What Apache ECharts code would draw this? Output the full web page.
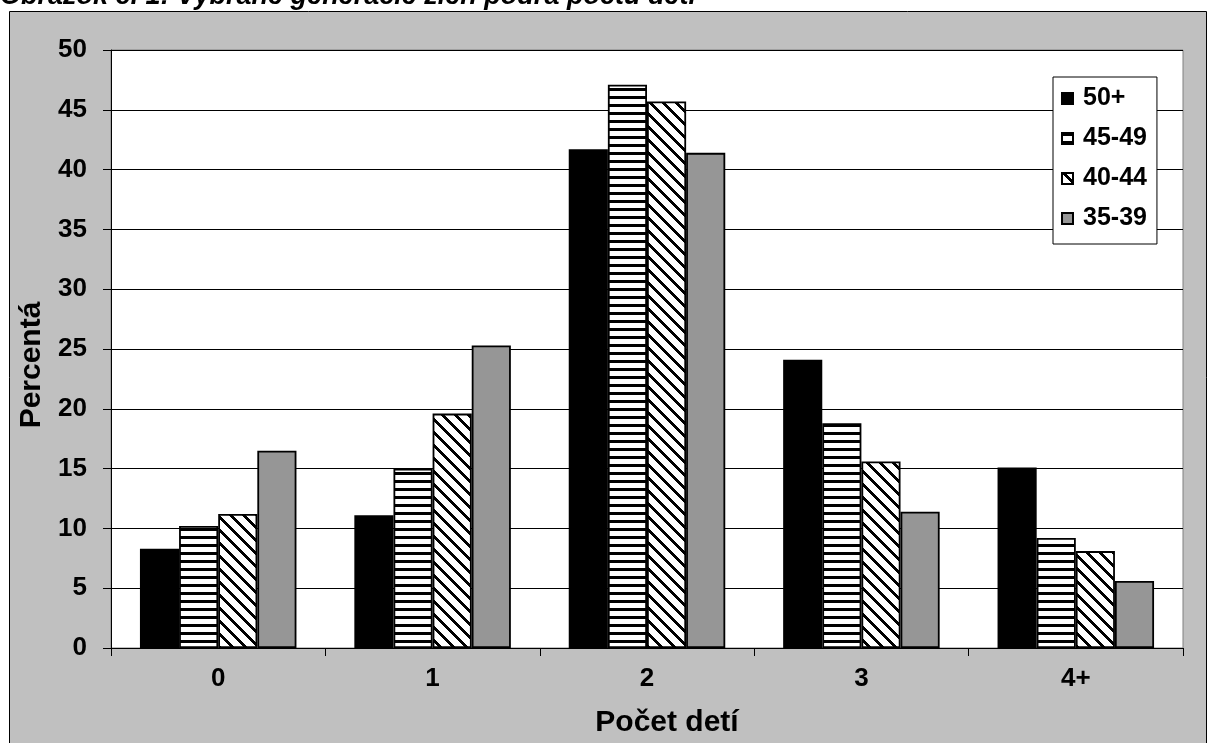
<!DOCTYPE html>
<html><head><meta charset="utf-8">
<script src="https://cdn.jsdelivr.net/npm/echarts@6/dist/echarts.min.js"></script>
<style>html,body{margin:0;padding:0;background:#fff}#c{width:1208px;height:743px}</style>
</head><body><div id="c"></div>
<script>
const categories = ['0', '1', '2', '3', '4+'];
const seriesNames = ['50+', '45-49', '40-44', '35-39'];
const s50plus = [8.3, 11.1, 41.7, 24.1, 15.1];
const s45_49 = [10.2, 15.0, 47.1, 18.8, 9.2];
const s40_44 = [11.2, 19.6, 45.7, 15.6, 8.1];
const s35_39 = [16.5, 25.3, 41.4, 11.4, 5.6];
const yTicks = [0, 5, 10, 15, 20, 25, 30, 35, 40, 45, 50];

function hStripes() {
  const c = document.createElement('canvas'); c.width = 8; c.height = 8;
  const g = c.getContext('2d');
  g.fillStyle = '#fff'; g.fillRect(0, 0, 8, 8);
  g.fillStyle = '#000'; g.fillRect(0, 0, 8, 3);
  return { image: c, repeat: 'repeat' };
}
function dStripes() {
  const n = 13, c = document.createElement('canvas'); c.width = n; c.height = n;
  const g = c.getContext('2d');
  const img = g.createImageData(n, n);
  for (let y = 0; y < n; y++) for (let x = 0; x < n; x++) {
    const k = (((x - y) % n) + n) % n;
    const v = k < 4 ? 0 : 255;
    const i = (y * n + x) * 4;
    img.data[i] = v; img.data[i + 1] = v; img.data[i + 2] = v; img.data[i + 3] = 255;
  }
  g.putImageData(img, 0, 0);
  return { image: c, repeat: 'repeat' };
}

const FONT = 'Liberation Sans, Arial, sans-serif';
const fills = ['#000000', hStripes(), dStripes(), '#969696'];
const values = [s50plus, s45_49, s40_44, s35_39];

const chart = echarts.init(document.getElementById('c'), null, { renderer: 'canvas' });
chart.setOption({
  backgroundColor: '#ffffff',
  animation: false,
  graphic: [
    { type: 'rect', z: -10, shape: { x: 9.5, y: 11.5, width: 1197, height: 740 },
      style: { fill: '#C0C0C0', stroke: '#000', lineWidth: 1 } },
    { type: 'text', x: 0, y: -3, z: 10,
      style: { text: 'Obrázok č. 1: Vybrané generácie žien podľa počtu detí',
        font: 'italic bold 27px ' + FONT, fill: '#000', verticalAlign: 'middle', align: 'left' } }
  ],
  grid: { left: 111, right: 25, top: 50, bottom: 93, show: true, backgroundColor: '#ffffff',
    borderColor: '#808080', borderWidth: 1 },
  legend: {
    orient: 'vertical', left: 1053, top: 77, icon: 'rect',
    backgroundColor: '#ffffff', borderColor: '#000', borderWidth: 1,
    padding: [9, 10, 13, 8], itemGap: 15, itemWidth: 11, itemHeight: 11,
    textStyle: { fontSize: 25, fontWeight: 'bold', fontFamily: FONT, color: '#000', padding: [0, 0, 0, 5] },
    data: seriesNames
  },
  xAxis: {
    type: 'category', data: categories,
    name: 'Počet detí', nameLocation: 'middle', nameGap: 60,
    nameTextStyle: { fontSize: 30, fontWeight: 'bold', fontFamily: FONT, color: '#000', padding: [0, 0, 0, 40] },
    axisLine: { lineStyle: { color: '#000', width: 1 } },
    axisTick: { show: true, alignWithLabel: false, length: 8, lineStyle: { color: '#000' } },
    axisLabel: { fontSize: 26, fontWeight: 'bold', fontFamily: FONT, color: '#000', margin: 18 }
  },
  yAxis: {
    type: 'value', min: 0, max: 50, interval: 5,
    name: 'Percentá', nameLocation: 'middle', nameGap: 53, nameRotate: 90,
    nameTextStyle: { fontSize: 30, fontWeight: 'bold', fontFamily: FONT, color: '#000', padding: [0, 32, 0, 0] },
    axisLine: { show: true, lineStyle: { color: '#000', width: 1 } },
    axisTick: { show: true, length: 8, lineStyle: { color: '#000' } },
    axisLabel: { fontSize: 26, fontWeight: 'bold', fontFamily: FONT, color: '#000', margin: 24,
      formatter: v => (yTicks.includes(v) ? String(v) : '') },
    splitLine: { show: true, lineStyle: { color: '#000', width: 1 } }
  },
  series: seriesNames.map((name, i) => ({
    name, type: 'bar', data: values[i],
    barGap: '0%', barCategoryGap: '27%',
    itemStyle: { color: fills[i], borderColor: '#000', borderWidth: 1.8 }
  }))
});
</script></body></html>
